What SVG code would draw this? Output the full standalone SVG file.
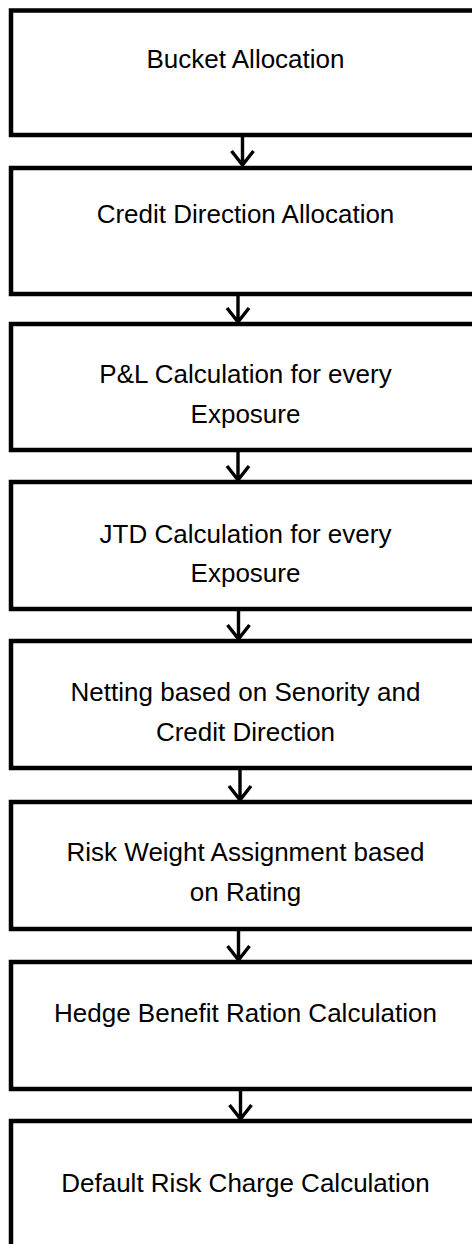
<svg xmlns="http://www.w3.org/2000/svg" width="472" height="1244" viewBox="0 0 472 1244">
<defs>
<style>
.box{fill:#fff;stroke:#000;stroke-width:4.5;stroke-linejoin:miter}
.t{font-family:"Liberation Sans",Arial,sans-serif;font-size:26px;fill:#000;text-anchor:middle}
.c{stroke:#000;stroke-width:3.4;fill:none;stroke-linecap:butt}
</style>
</defs>
<rect width="472" height="1244" fill="#fff"/>
<g id="n1"><rect class="box" x="11" y="10.5" width="480" height="124.5"/><text class="t" x="245.5" y="68">Bucket Allocation</text></g>
<g id="n2"><rect class="box" x="11" y="168" width="480" height="126"/><text class="t" x="245.5" y="223">Credit Direction Allocation</text></g>
<g id="n3"><rect class="box" x="11" y="324" width="480" height="126"/><text class="t" x="245.5" y="383">P&amp;L Calculation for every</text><text class="t" x="245.5" y="423">Exposure</text></g>
<g id="n4"><rect class="box" x="11" y="482" width="480" height="127"/><text class="t" x="245.5" y="543">JTD Calculation for every</text><text class="t" x="245.5" y="582">Exposure</text></g>
<g id="n5"><rect class="box" x="11" y="641" width="480" height="127"/><text class="t" x="245.5" y="701">Netting based on Senority and</text><text class="t" x="245.5" y="741">Credit Direction</text></g>
<g id="n6"><rect class="box" x="11" y="802" width="480" height="127"/><text class="t" x="245.5" y="861">Risk Weight Assignment based</text><text class="t" x="245.5" y="901">on Rating</text></g>
<g id="n7"><rect class="box" x="11" y="962" width="480" height="127"/><text class="t" x="245.5" y="1022">Hedge Benefit Ration Calculation</text></g>
<g id="n8"><rect class="box" x="11" y="1121" width="480" height="160"/><text class="t" x="245.5" y="1192">Default Risk Charge Calculation</text></g>
<g id="connectors">
<path class="c" d="M242.5 135V165M231.5 151L242.5 165L253.5 151"/>
<path class="c" d="M238 294V322M227 308L238 322L249 308"/>
<path class="c" d="M238 450V480M227 466L238 480L249 466"/>
<path class="c" d="M238.5 609V639M227.5 625L238.5 639L249.5 625"/>
<path class="c" d="M240 768V800M229 786L240 800L251 786"/>
<path class="c" d="M238.5 929V960M227.5 946L238.5 960L249.5 946"/>
<path class="c" d="M240.5 1089V1119M229.5 1105L240.5 1119L251.5 1105"/>
</g>
</svg>
